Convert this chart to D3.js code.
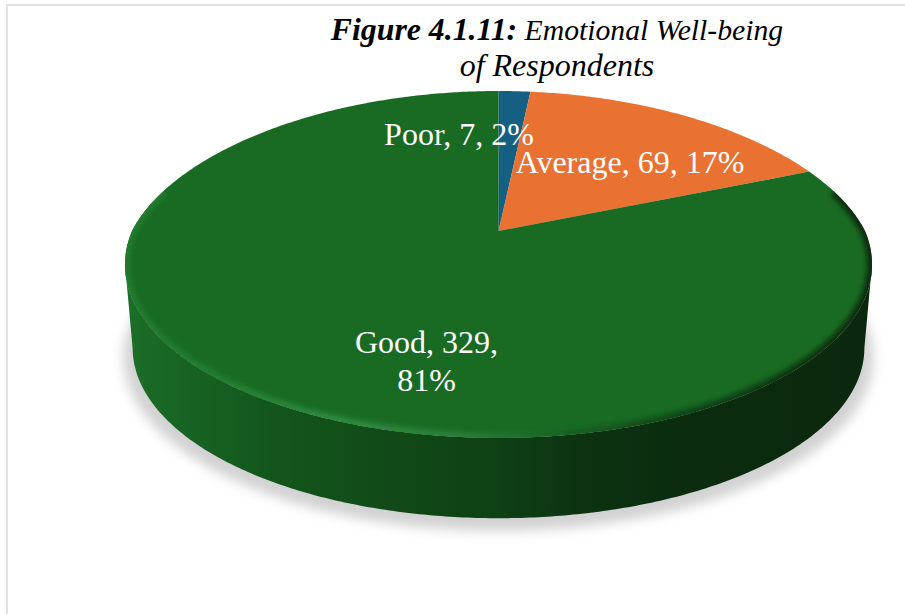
<!DOCTYPE html>
<html><head><meta charset="utf-8">
<style>html,body{margin:0;padding:0;background:#fff;overflow:hidden}svg{display:block}text{font-family:"Liberation Serif","Times New Roman",serif}</style>
<script src="https://cdn.jsdelivr.net/npm/d3@7"></script>
</head><body><svg id="c" width="905" height="614"></svg>
<script>
const categories = ["Poor", "Average", "Good"];
const counts = [7, 69, 329];
const percents = ["2%", "17%", "81%"];
const colors = ["#156082", "#E97132", "#196B24"];

const W = 905, H = 614;
const svg = d3.select("#c");
const defs = svg.append("defs");

// perspective projection of a flat disc
const k = 0.193;
const topDisc = {cx: 498.5, cy: 231, rx: 366.5, ry: 167};
const botDisc = {cx: 498.5, cy: 315, rx: 359, ry: 164};
function project(d, a, r = 1) {
  const u = r * Math.sin(a), v = -r * Math.cos(a), w = 1 - k * v;
  const narrow = v < 0 ? 1 + 0.04 * v : 1;   // back half slightly tighter
  return [d.cx + d.rx * narrow * u / w, d.cy + d.ry * v / w];
}
const line = d3.line();
const sweep = (a0, a1) => { const n = Math.max(2, Math.ceil(Math.abs(a1 - a0) / 0.01));
  return d3.range(n + 1).map(i => a0 + (a1 - a0) * i / n); };
const TAU = Math.PI * 2;

// filters
const f1 = defs.append("filter").attr("id","shadow").attr("x","-10%").attr("y","-10%").attr("width","120%").attr("height","120%");
f1.append("feGaussianBlur").attr("stdDeviation",6);
const f2 = defs.append("filter").attr("id","soft").attr("x","-5%").attr("y","-5%").attr("width","110%").attr("height","110%");
f2.append("feGaussianBlur").attr("stdDeviation",2.4);

function hgrad(id, stops){
  const g = defs.append("linearGradient").attr("id",id).attr("gradientUnits","userSpaceOnUse")
    .attr("x1",125).attr("x2",872).attr("y1",0).attr("y2",0);
  stops.forEach(([o,c])=>g.append("stop").attr("offset",o).attr("stop-color",c));
}
hgrad("side",[[0,"#1c6e28"],[0.07,"#186524"],[0.2,"#13561c"],[0.35,"#114a18"],[0.5,"#0e4014"],[0.62,"#0c3211"],[0.75,"#0b2c0f"],[1,"#0a280d"]]);
hgrad("rim",[[0,"#217a2e"],[0.15,"#258034"],[0.3,"#2f8a41"],[0.45,"#2a7f3a"],[0.55,"#1d6a2a"],[0.68,"#124d1a"],[0.85,"#0d3812"],[1,"#0a2a0e"]]);

// frame
svg.append("path").attr("d",line([[7,H],[7,5],[W,5]])).attr("fill","none").attr("stroke","#e2e2e2").attr("stroke-width",2);

// shadow
const full = sweep(0, TAU);
const kk = Math.acos(-k);
svg.append("path").attr("d",line(full.map(a=>project({...botDisc,rx:botDisc.rx+9,ry:botDisc.ry+3,cy:botDisc.cy+9},a))))
  .attr("fill","#d2d2d2").attr("filter","url(#shadow)");

// side wall: silhouette runs between the widest points of the two rims
const sideAngles = sweep(kk, TAU - kk);
const sidePts = sideAngles.map(a=>project(topDisc,a)).concat(sideAngles.slice().reverse().map(a=>project(botDisc,a)));
svg.append("path").attr("d",line(sidePts)+"Z").attr("fill","url(#side)");

// top surface slices
const pie = d3.pie().sort(null).value(d=>d)(counts);
const center = project(topDisc, 0, 0);
svg.append("g").selectAll("path").data(pie).join("path")
  .attr("d",d=>line([center].concat(sweep(d.startAngle,d.endAngle).map(a=>project(topDisc,a))))+"Z")
  .attr("fill",(d,i)=>colors[i]);

// bevel along the front rim, clipped to the disc
defs.append("clipPath").attr("id","topClip").append("path").attr("d",line(full.map(a=>project(topDisc,a)))+"Z");
svg.append("g").attr("clip-path","url(#topClip)").append("path")
  .attr("d",line(sweep(Math.PI*0.42, Math.PI*1.58).map(a=>project(topDisc,a))))
  .attr("fill","none").attr("stroke","url(#rim)").attr("stroke-width",10).attr("filter","url(#soft)");

// labels
const labelLayout = [
  {x: 459, ys: [145], lines: d => [`${d.c}, ${d.n}, ${d.p}`]},
  {x: 630, ys: [173], lines: d => [`${d.c}, ${d.n}, ${d.p}`]},
  {x: 426.5, ys: [353, 391], lines: d => [`${d.c}, ${d.n},`, d.p]}
];
const labels = svg.append("g").attr("fill","#fff").attr("font-size",32).attr("text-anchor","middle");
categories.forEach((c,i)=>{
  const L = labelLayout[i], txt = L.lines({c, n:counts[i], p:percents[i]});
  txt.forEach((t,j)=>labels.append("text").attr("x",L.x).attr("y",L.ys[j]).text(t));
});

// title
const title = svg.append("text").attr("x",557).attr("y",40).attr("text-anchor","middle").attr("fill","#000");
title.append("tspan").attr("font-size",31.8).attr("font-weight","bold").attr("font-style","italic").text("Figure 4.1.11:");
title.append("tspan").attr("font-size",29.7).attr("font-style","italic").text(" Emotional Well-being");
svg.append("text").attr("x",557).attr("y",76).attr("text-anchor","middle").attr("fill","#000")
  .attr("font-size",32).attr("font-style","italic").text("of Respondents");
</script></body></html>
